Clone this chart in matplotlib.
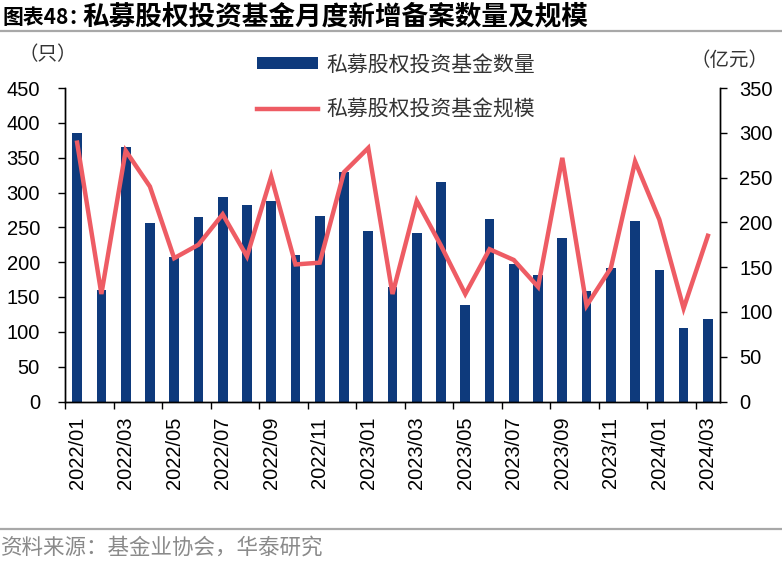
import numpy as np
import matplotlib
matplotlib.use('Agg')
import matplotlib.pyplot as plt

plt.rcParams['font.family'] = ['Liberation Sans', 'Noto Sans CJK SC', 'DejaVu Sans']

# 数据
months = ['2022/01', '2022/02', '2022/03', '2022/04', '2022/05', '2022/06', '2022/07',
          '2022/08', '2022/09', '2022/10', '2022/11', '2022/12', '2023/01', '2023/02',
          '2023/03', '2023/04', '2023/05', '2023/06', '2023/07', '2023/08', '2023/09',
          '2023/10', '2023/11', '2023/12', '2024/01', '2024/02', '2024/03']
fund_count = [385, 160, 365, 256, 207, 265, 293, 282, 288, 210, 266, 329, 245, 165,
              242, 315, 139, 262, 198, 181, 234, 159, 191, 259, 189, 106, 119]
fund_scale = [289, 120, 280, 240, 160, 175, 209, 162, 251, 153, 155, 256, 283, 120,
              224, 174, 120, 170, 158, 128, 272, 107, 149, 268, 203, 104, 185]

navy = '#0E3A7C'
coral = '#EE5C64'
cjk = ['Noto Sans CJK SC', 'DejaVu Sans']

fig = plt.figure(figsize=(7.82, 5.61), dpi=100)
ax = fig.add_axes([65 / 782, 1 - 401.5 / 561, 655 / 782, 313.5 / 561])
ax2 = ax.twinx()

x = np.arange(len(months))
b = ax.bar(x, fund_count, width=0.4, color=navy, zorder=2)
l, = ax2.plot(x, fund_scale, color=coral, lw=3.2, solid_joinstyle='miter', zorder=3)

ax.set_xlim(-0.5, len(months) - 0.5)
ax.set_ylim(0, 450)
ax2.set_ylim(0, 350)
ax.set_yticks(range(0, 451, 50))
ax2.set_yticks(range(0, 351, 50))

# 刻度线在类别之间，标签在类别中心
ax.set_xticks(np.arange(-0.5, len(months) - 1, 2))
ax.set_xticklabels([])
ax.set_xticks(x[::2], minor=True)
ax.set_xticklabels(months[::2], minor=True, rotation=90, fontsize=14.5)
ax.tick_params(axis='x', which='major', length=5, width=1, direction='out')
ax.tick_params(axis='x', which='minor', length=0, pad=11)
ax.tick_params(axis='y', length=5, width=1, direction='out', labelsize=14.5, pad=13)
ax2.tick_params(axis='y', length=5, width=1, direction='out', labelsize=14.5, pad=9)

for a in (ax, ax2):
    a.spines['top'].set_visible(False)
    for s in a.spines.values():
        s.set_linewidth(1)
ax.patch.set_visible(False)
ax2.patch.set_visible(False)

# 图例
leg = fig.legend([b, l], ['私募股权投资基金数量', '私募股权投资基金规模'],
                 loc='upper left', bbox_to_anchor=(238 / 782, 1 - 35 / 561),
                 frameon=False, prop={'family': cjk, 'size': 15},
                 handlelength=2.95, handleheight=0.52, handletextpad=0.4,
                 labelspacing=1.08, labelcolor='#333333')

fig.text(18 / 782, 1 - 55 / 561, '（只）', family=cjk, fontsize=14, color='#333333',
         va='center', ha='left')
fig.text(768 / 782, 1 - 60 / 561, '（亿元）', family=cjk, fontsize=14, color='#333333',
         va='center', ha='right')

# 标题和来源
fig.text(3 / 782, 1 - 17 / 561, '图表48：', family=cjk, fontsize=15, fontweight='bold',
         va='center', ha='left')
fig.text(82 / 782, 1 - 17 / 561, '私募股权投资基金月度新增备案数量及规模',
         family=cjk, fontsize=19.2, fontweight='bold', va='center', ha='left')
fig.add_artist(plt.Line2D([0, 1], [1 - 31 / 561] * 2, color='#A8A8A8', lw=1.6))
fig.add_artist(plt.Line2D([0, 1], [1 - 529 / 561] * 2, color='#A8A8A8', lw=1.6))
fig.text(1 / 782, 1 - 548 / 561, '资料来源：基金业协会，华泰研究', family=cjk,
         fontsize=15.5, color='#8A8A8A', va='center', ha='left')

plt.savefig('out.png', dpi=100)
